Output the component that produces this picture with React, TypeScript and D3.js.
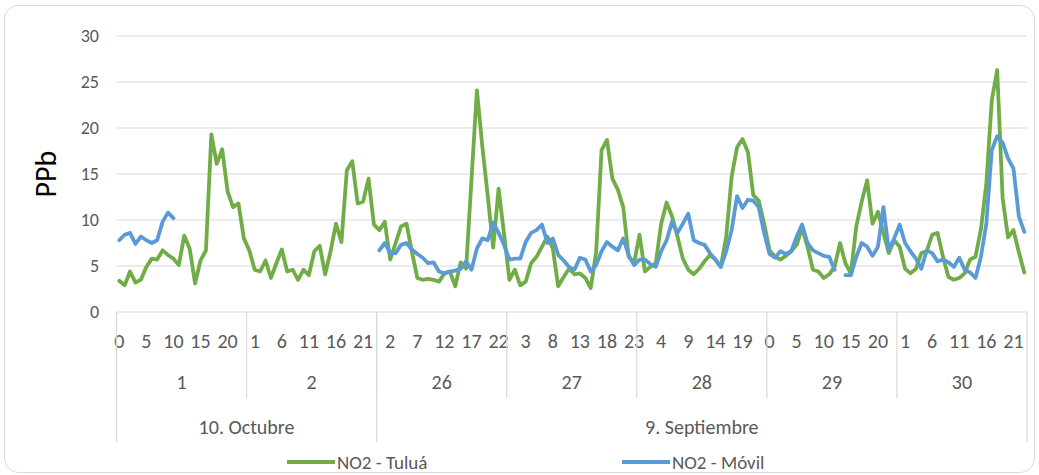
import React from "react";
import * as d3 from "d3";

// categories: hour of day, grouped by day, grouped by month
const hoursPerDay = 24;
const days = ["1", "2", "26", "27", "28", "29", "30"];
const months = ["10. Octubre", "9. Septiembre"];
const daysPerMonth = [2, 5];
const yTicks = [0, 5, 10, 15, 20, 25, 30];

// NO2 - Tuluá, one row per day
const tulua = [
  3.4, 2.9, 4.4, 3.2, 3.5, 4.9, 5.8, 5.7, 6.7, 6.2, 5.8, 5.1, 8.3, 6.9, 3.1, 5.6, 6.7, 19.3, 16.1, 17.7, 13.1, 11.4, 11.8, 8.0,
  6.7, 4.6, 4.4, 5.6, 3.7, 5.3, 6.8, 4.4, 4.6, 3.5, 4.6, 4.0, 6.6, 7.2, 4.1, 6.6, 9.6, 7.6, 15.4, 16.4, 11.8, 12.0, 14.5, 9.5,
  8.9, 9.8, 5.7, 7.5, 9.3, 9.6, 6.6, 3.7, 3.5, 3.6, 3.5, 3.3, 4.2, 4.4, 2.8, 5.4, 4.7, 14.4, 24.1, 18.0, 12.6, 7.0, 13.4, 8.5,
  3.5, 4.6, 2.9, 3.3, 5.3, 6.0, 7.1, 8.2, 6.9, 2.8, 3.8, 4.7, 4.1, 4.2, 3.7, 2.6, 6.5, 17.6, 18.7, 14.5, 13.3, 11.4, 6.0, 5.3,
  8.4, 4.4, 4.9, 5.3, 9.6, 11.9, 10.4, 8.2, 5.8, 4.6, 4.1, 4.7, 5.5, 6.2, 5.7, 4.9, 8.2, 14.7, 17.9, 18.8, 17.4, 12.7, 12.1, 9.6,
  6.7, 6.0, 5.7, 6.1, 6.6, 7.3, 9.1, 7.1, 4.6, 4.4, 3.7, 4.1, 4.9, 7.5, 5.3, 4.2, 9.3, 12.0, 14.3, 9.6, 10.9, 8.6, 6.4, 7.8,
  7.1, 4.7, 4.2, 4.7, 6.4, 6.6, 8.4, 8.6, 6.0, 3.8, 3.5, 3.7, 4.2, 5.7, 6.0, 9.0, 14.0, 23.0, 26.3, 12.4, 8.1, 8.9, 6.5, 4.3,
];

// NO2 - Móvil (null = no measurement)
const n = null;
const movil = [
  7.8, 8.4, 8.6, 7.4, 8.2, 7.8, 7.5, 7.8, 9.8, 10.8, 10.2, n, n, n, n, n, n, n, n, n, n, n, n, n,
  n, n, n, n, n, n, n, n, n, n, n, n, n, n, n, n, n, n, n, n, n, n, n, n,
  6.7, 7.5, 6.4, 6.4, 7.3, 7.5, 6.8, 6.3, 5.9, 5.3, 5.4, 4.4, 4.2, 4.4, 4.5, 4.7, 5.5, 4.6, 6.9, 8.0, 7.8, 9.7, 8.6, 7.3,
  5.7, 5.8, 5.8, 7.6, 8.6, 8.9, 9.5, 7.5, 8.0, 6.2, 5.6, 4.9, 4.6, 5.9, 5.7, 4.4, 5.1, 6.6, 7.6, 7.1, 6.7, 8.0, 6.2, 5.1,
  5.7, 5.7, 5.2, 4.9, 6.6, 7.8, 9.8, 8.6, 9.6, 10.7, 7.8, 7.5, 7.3, 6.4, 5.7, 4.9, 6.6, 8.9, 12.6, 11.3, 12.2, 12.1, 11.4, 8.6,
  6.3, 5.9, 6.6, 6.3, 6.6, 8.2, 9.5, 7.5, 6.7, 6.4, 6.1, 6.0, 4.6, n, 4.0, 4.0, 6.0, 7.5, 7.1, 6.1, 7.1, 11.4, 6.7, 8.0,
  9.5, 7.5, 6.6, 5.8, 4.7, 6.7, 6.4, 5.5, 5.7, 5.4, 4.9, 5.9, 4.6, 4.3, 3.7, 6.0, 9.6, 17.6, 19.1, 18.4, 16.7, 15.6, 10.4, 8.7,
];

const seriesNames = ["NO2 - Tuluá", "NO2 - Móvil"];
const colors = ["#70ad47", "#5b9bd5"];

const FONT = "Carlito, Calibri, Lato, sans-serif";

export default function App() {
  const width = 1039, height = 475;
  const margin = { top: 36, right: 12, bottom: 163, left: 116.5 };
  const plotRight = width - margin.right;
  const plotBottom = height - margin.bottom;

  const n_cat = days.length * hoursPerDay;
  const x = d3.scaleBand<number>().domain(d3.range(n_cat)).range([margin.left, plotRight]);
  const bw = x.bandwidth();
  const cx = (i: number) => (x(i) as number) + bw / 2;
  const y = d3.scaleLinear().domain([0, 30]).range([plotBottom, margin.top]);

  const line = d3
    .line<number | null>()
    .defined((d) => d != null)
    .x((d, i) => cx(i))
    .y((d) => y(d as number));

  const dayX = (k: number) => x(k * hoursPerDay) as number;
  const dayEnd = (k: number) => (k + 1 >= days.length ? plotRight : dayX(k + 1));

  let monthStart = 0;
  const monthSpans = months.map((m, j) => {
    const s = monthStart;
    monthStart += daysPerMonth[j];
    return { label: m, x0: dayX(s), x1: dayEnd(monthStart - 1) };
  });

  const hourY = plotBottom + 36;
  const dayY = plotBottom + 77;
  const monthY = plotBottom + 122;
  const axisFont = 20;

  return (
    <svg width={width} height={height} style={{ position: "absolute", left: 0, top: 0 }} fontFamily={FONT}>
      <rect x={4.5} y={5.5} width={1030} height={467} rx={14} fill="#fff" stroke="#d9d9d9" />

      {/* gridlines */}
      {yTicks.map((t) => (
        <line key={t} x1={margin.left} x2={plotRight} y1={y(t)} y2={y(t)} stroke="#d9d9d9" strokeWidth={1.2} />
      ))}
      {yTicks.map((t) => (
        <text key={"l" + t} x={99} y={y(t)} dy="0.35em" textAnchor="end" fontSize={18} fill="#595959">
          {t}
        </text>
      ))}
      <text transform={`translate(56,${(margin.top + plotBottom) / 2}) rotate(-90)`} textAnchor="middle" fontSize={30} fill="#000">
        PPb
      </text>

      {/* multi-level category axis */}
      {d3.range(n_cat).filter((i) => i % 5 === 0).map((i) => (
        <text key={"h" + i} x={cx(i)} y={hourY} textAnchor="middle" fontSize={axisFont} fill="#595959">
          {i % hoursPerDay}
        </text>
      ))}
      {days.map((d, k) => (
        <g key={"d" + k}>
          <text x={(dayX(k) + dayEnd(k)) / 2} y={dayY} textAnchor="middle" fontSize={axisFont} fill="#595959">
            {d}
          </text>
          <line x1={dayX(k)} x2={dayX(k)} y1={plotBottom} y2={plotBottom + 86} stroke="#d9d9d9" strokeWidth={1.2} />
        </g>
      ))}
      {monthSpans.map((m, j) => (
        <g key={"m" + j}>
          <text x={(m.x0 + m.x1) / 2} y={monthY} textAnchor="middle" fontSize={axisFont} fill="#595959">
            {m.label}
          </text>
          <line x1={m.x0} x2={m.x0} y1={plotBottom} y2={plotBottom + 130} stroke="#d9d9d9" strokeWidth={1.2} />
        </g>
      ))}
      <line x1={plotRight} x2={plotRight} y1={plotBottom} y2={plotBottom + 130} stroke="#d9d9d9" strokeWidth={1.2} />

      {/* series */}
      {[tulua, movil].map((s, j) => (
        <path key={"s" + j} d={line(s) || ""} fill="none" stroke={colors[j]} strokeWidth={3.8} strokeLinejoin="round" strokeLinecap="round" />
      ))}

      {/* legend */}
      {seriesNames.map((name, j) => {
        const lx = j === 0 ? 287 : 622;
        return (
          <g key={"lg" + j}>
            <line x1={lx} x2={lx + 48} y1={462} y2={462} stroke={colors[j]} strokeWidth={3.8} />
            <text x={lx + 50} y={462} dy="0.35em" fontSize={19} fill="#595959">
              {name}
            </text>
          </g>
        );
      })}
    </svg>
  );
}
